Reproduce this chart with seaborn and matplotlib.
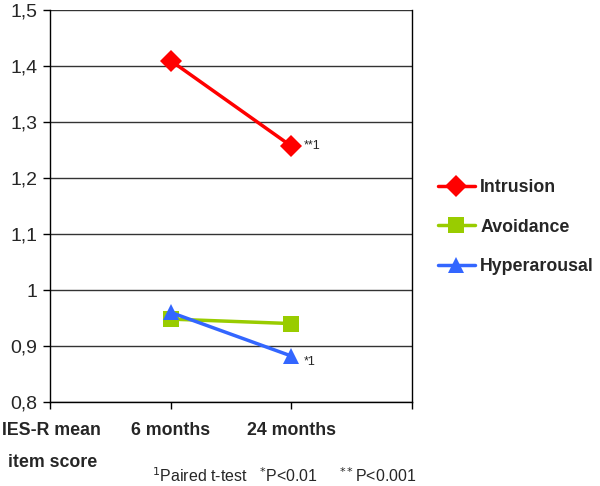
import pandas as pd
import seaborn as sns
import matplotlib.pyplot as plt

# data
timepoints = ['6 months', '24 months']
intrusion = [1.41, 1.257]
avoidance = [0.948, 0.940]
hyperarousal = [0.960, 0.882]
series = ['Intrusion', 'Avoidance', 'Hyperarousal']
y_ticks = [0.8, 0.9, 1.0, 1.1, 1.2, 1.3, 1.4, 1.5]

rows = []
for name, vals in zip(series, [intrusion, avoidance, hyperarousal]):
    for i, v in enumerate(vals):
        rows.append((name, i + 1, v))
df = pd.DataFrame(rows, columns=['series', 'pos', 'score'])

sns.set_style('white')
plt.rcParams['font.family'] = ['Liberation Sans', 'DejaVu Sans']

fig = plt.figure(figsize=(6, 4.86), dpi=100)
ax = fig.add_axes([0.083, 0.173, 0.604, 0.806])

palette = {'Intrusion': '#FF0000', 'Avoidance': '#99CC00', 'Hyperarousal': '#3366FF'}
markers = {'Intrusion': 'D', 'Avoidance': 's', 'Hyperarousal': '^'}
sns.lineplot(data=df, x='pos', y='score', hue='series', style='series',
             palette=palette, markers=markers, dashes=False, markersize=11,
             linewidth=2.5, markeredgewidth=0, ax=ax)

ax.set_xlim(0, 3)
ax.set_ylim(0.8, 1.5)
ax.set_yticks(y_ticks)
ax.set_yticklabels([('%.1f' % t).replace('.', ',').replace(',0', '') for t in y_ticks], fontsize=14)
ax.yaxis.grid(True, color='#333333', linewidth=1)
ax.set_axisbelow(True)
ax.set_xticks([0, 1, 2, 3])
ax.set_xticklabels([])
ax.tick_params(axis='both', direction='out', length=5, width=1, color='black', pad=4, left=True, bottom=True)
for s in ['left', 'bottom', 'right']:
    ax.spines[s].set_color('black')
    ax.spines[s].set_linewidth(1)
ax.spines['top'].set_visible(False)
ax.set_xlabel('')
ax.set_ylabel('')

for i, lab in enumerate(timepoints):
    ax.text(i + 1, -0.05, lab, transform=ax.get_xaxis_transform(), ha='center', va='top',
            fontsize=12.8, fontweight='bold')
fig.text(0.003, 0.172 - 0.05 * 0.806, 'IES-R mean', ha='left', va='top',
         fontsize=12.8, fontweight='bold')
fig.text(0.087, 0.172 - 0.05 * 0.806 - 0.066, 'item score', ha='center', va='top',
         fontsize=12.8, fontweight='bold')

# significance marks
ax.text(2.1, intrusion[1], '**1', fontsize=9, va='center')
ax.text(2.1, hyperarousal[1] - 0.01, '*1', fontsize=9, va='center')

fig.text(0.253, 0.022, r'$^{1}$Paired t-test   $^{*}$P<0.01     $^{**}$P<0.001', fontsize=11.5, va='center')

leg = ax.legend(loc='center left', bbox_to_anchor=(1.07, 0.446), frameon=False,
                prop={'weight': 'bold', 'size': 12.8}, handlelength=2.1, labelspacing=1.25,
                handletextpad=0.3, borderaxespad=0, borderpad=0)

fig.savefig('out.png', dpi=100)
